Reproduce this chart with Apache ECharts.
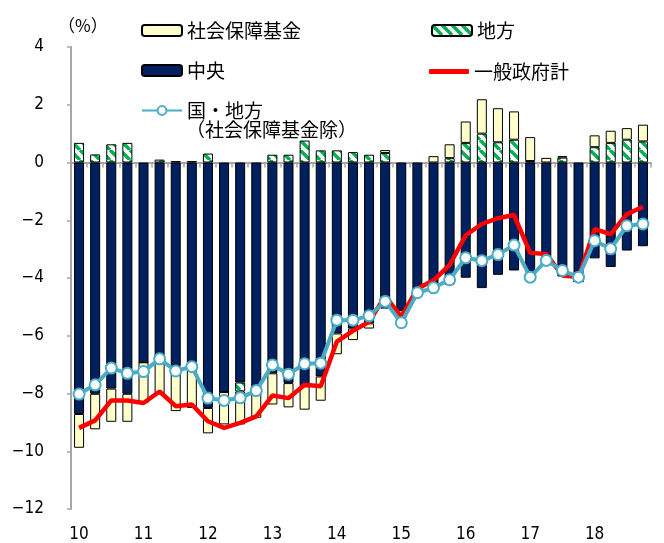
<!DOCTYPE html>
<html>
<head>
<meta charset="utf-8">
<script src="https://cdn.jsdelivr.net/npm/echarts@6/dist/echarts.min.js"></script>
<style>
  html, body { margin: 0; padding: 0; background: #fff; }
  #chart { width: 664px; height: 543px; }
</style>
</head>
<body>
<div id="chart"></div>
<script>
// 年ラベル（四半期ごとにカテゴリを作る）
const years = ['10', '11', '12', '13', '14', '15', '16', '17', '18']
const quarters = ['Q1', 'Q2', 'Q3', 'Q4']
const categories = years.flatMap(y => quarters.map(q => y + q))

// 中央
const central = [-8.71, -8.01, -7.83, -8.01, -6.92, -6.95, -7.05, -6.95, -8.50, -7.95, -7.62, -7.98,
  -7.30, -7.64, -7.75, -7.41, -5.92, -5.75, -5.57, -5.06, -5.12, -4.43, -4.20, -4.23,
  -3.99, -4.35, -3.89, -3.74, -3.80, -3.38, -3.95, -4.12, -3.32, -3.62, -3.05, -2.90]
// 地方
const local = [0.68, 0.28, 0.63, 0.68, 0, 0.10, 0.05, 0.05, 0.31, 0, -0.31, 0,
  0.27, 0.27, 0.76, 0.42, 0.42, 0.36, 0.27, 0.33, 0, 0, 0, 0.15,
  0.68, 1.00, 0.70, 0.79, 0.05, 0, 0.17, 0, 0.53, 0.68, 0.79, 0.73]
// 社会保障基金
const social = [-1.17, -1.23, -1.15, -0.97, -1.41, -1.08, -1.56, -1.55, -0.88, -1.12, -1.14, -0.86,
  -1.08, -0.84, -0.81, -0.84, -0.72, -0.40, -0.18, 0.10, -0.28, 0, 0.22, 0.48,
  0.74, 1.19, 1.18, 0.98, 0.83, 0.16, 0.05, 0, 0.41, 0.42, 0.40, 0.58]
// 一般政府計
const general = [-9.19, -8.93, -8.24, -8.24, -8.33, -7.93, -8.44, -8.38, -8.96, -9.19, -9.02, -8.79,
  -8.07, -8.16, -7.70, -7.75, -6.20, -5.83, -5.52, -4.63, -5.35, -4.37, -4.08, -3.55,
  -2.52, -2.13, -1.93, -1.82, -3.13, -3.17, -3.91, -3.97, -2.31, -2.48, -1.79, -1.53]
// 国・地方（社会保障基金除）
const nationLocal = [-8.02, -7.70, -7.12, -7.30, -7.24, -6.80, -7.22, -7.07, -8.16, -8.24, -8.15, -7.90,
  -7.01, -7.33, -6.97, -6.95, -5.46, -5.46, -5.31, -4.81, -5.55, -4.51, -4.34, -4.06,
  -3.30, -3.40, -3.19, -2.86, -3.97, -3.39, -3.74, -3.97, -2.71, -2.99, -2.19, -2.13]

const numFont = '"Liberation Sans Narrow", "DejaVu Sans Condensed", sans-serif'
const jpFont = '"Noto Sans CJK JP", sans-serif'
const axisGrey = '#A6A6A6'

// 地方の斜線パターン
const pat = document.createElement('canvas')
pat.width = 10
pat.height = 10
const ctx = pat.getContext('2d')
ctx.fillStyle = '#fff'
ctx.fillRect(0, 0, 10, 10)
ctx.strokeStyle = '#00B050'
ctx.lineWidth = 3.5
for (const x of [-10, 0, 10]) {
  ctx.beginPath()
  ctx.moveTo(x, 0)
  ctx.lineTo(x + 10, 10)
  ctx.stroke()
}
const stripe = { image: pat, repeat: 'repeat' }

function legendAt(item, left, top, extra) {
  return Object.assign({
    data: [item],
    left: left,
    top: top,
    itemWidth: 40,
    itemHeight: 11,
    selectedMode: false,
    textStyle: { fontFamily: jpFont, fontSize: 19, color: '#000' }
  }, extra || {})
}

const chart = echarts.init(document.getElementById('chart'))
chart.setOption({
  animation: false,
  grid: { left: 71, right: 13, top: 47, bottom: 31 },
  legend: [
    legendAt('社会保障基金', 136, 16),
    legendAt('地方', 426, 16),
    legendAt('中央', 136, 56),
    legendAt({ name: '一般政府計', icon: 'roundRect' }, 424, 57, { itemHeight: 5 }),
    legendAt('国・地方', 136, 96)
  ],
  graphic: [
    {
      type: 'text', left: 58, top: 17,
      style: { text: '（%）', font: '17px ' + jpFont, fill: '#000' }
    },
    {
      type: 'text', left: 186, top: 120,
      style: { text: '（社会保障基金除）', font: '19px ' + jpFont, fill: '#000' }
    }
  ],
  xAxis: [
    {
      type: 'category',
      data: categories,
      axisLine: { onZero: true, lineStyle: { color: axisGrey, width: 2 } },
      axisTick: { show: true, interval: 0, length: 5, lineStyle: { color: axisGrey, width: 1.5 } },
      axisLabel: { show: false },
      splitLine: { show: false }
    },
    {
      type: 'category',
      data: categories,
      position: 'bottom',
      axisLine: { show: false, onZero: false },
      axisTick: { show: false },
      axisLabel: {
        interval: 0,
        margin: 17,
        fontFamily: numFont,
        fontSize: 17,
        color: '#000',
        formatter: (v, i) => (i % 4 === 0 ? years[i / 4] : '')
      }
    }
  ],
  yAxis: {
    type: 'value',
    min: -12,
    max: 4,
    interval: 2,
    splitLine: { show: false },
    axisLine: { show: true, lineStyle: { color: axisGrey, width: 2 } },
    axisTick: { show: true, length: 4, lineStyle: { color: axisGrey, width: 1.5 } },
    axisLabel: {
      margin: 27,
      fontFamily: numFont,
      fontSize: 17,
      color: '#000',
      formatter: v => String(v).replace('-', '−')
    }
  },
  series: [
    {
      name: '中央',
      type: 'bar',
      stack: 'total',
      barWidth: 10,
      itemStyle: { color: '#002060', borderColor: '#000', borderWidth: 1 },
      data: central
    },
    {
      name: '地方',
      type: 'bar',
      stack: 'total',
      barWidth: 10,
      itemStyle: { color: stripe, borderColor: '#000', borderWidth: 1 },
      data: local
    },
    {
      name: '社会保障基金',
      type: 'bar',
      stack: 'total',
      barWidth: 10,
      itemStyle: { color: '#FFFFCC', borderColor: '#000', borderWidth: 1 },
      data: social
    },
    {
      name: '一般政府計',
      type: 'line',
      symbol: 'none',
      lineStyle: { color: '#FF0000', width: 4.5 },
      itemStyle: { color: '#FF0000' },
      data: general
    },
    {
      name: '国・地方',
      type: 'line',
      symbol: 'circle',
      symbolSize: 11,
      showSymbol: true,
      showAllSymbol: true,
      lineStyle: { color: '#4BACC6', width: 4 },
      itemStyle: { color: '#fff', borderColor: '#4BACC6', borderWidth: 2 },
      data: nationLocal
    }
  ]
})
</script>
</body>
</html>
